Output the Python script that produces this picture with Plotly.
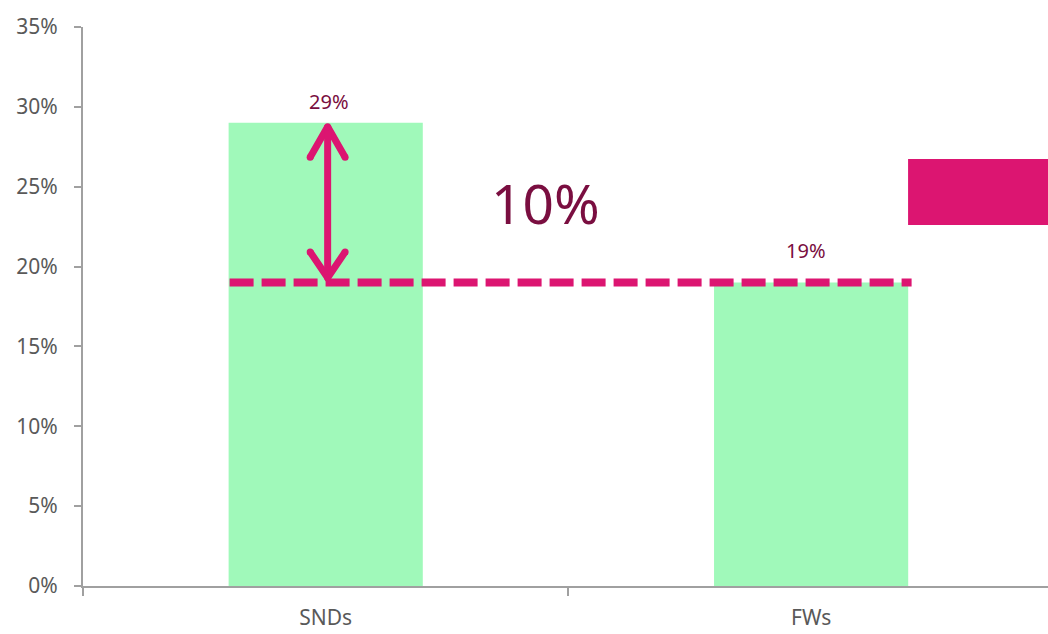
import plotly.graph_objects as go

categories = ["SNDs", "FWs"]
values = [0.29, 0.19]
bar_labels = ["29%", "19%"]
y_tickvals = [0, 0.05, 0.10, 0.15, 0.20, 0.25, 0.30, 0.35]
y_ticktext = ["0%", "5%", "10%", "15%", "20%", "25%", "30%", "35%"]

GREEN = "#A0F9BA"
MAGENTA = "#DC1571"
MAROON = "#7A0E40"
GREY_TXT = "#595959"
AXIS = "#A0A0A0"
FONT = "Noto Sans"

xs = list(range(len(categories)))
snd, fw = values
diff_label = f"{round((snd - fw) * 100)}%"

fig = go.Figure()
fig.add_trace(go.Bar(x=xs, y=values, width=0.4, marker=dict(color=GREEN, line=dict(width=0)),
                     hoverinfo="skip", showlegend=False))

# dashed reference line at FWs level
fig.add_trace(go.Scatter(x=[-0.198, 1.207], y=[fw, fw], mode="lines",
                         line=dict(color=MAGENTA, width=8, dash="24px,8px"),
                         hoverinfo="skip", showlegend=False))

# double-headed arrow between the two levels
ax = 0.004
top = snd - 0.0025
bot = fw + 0.003
hw = 0.036
hh = 0.019
arrow_x = [ax - hw, ax, ax + hw, None, ax, ax, None, ax - hw, ax, ax + hw]
arrow_y = [top - hh, top, top - hh, None, top, bot, None, bot + hh * 0.85, bot, bot + hh * 0.85]
fig.add_trace(go.Scatter(x=arrow_x, y=arrow_y, mode="lines",
                         line=dict(color=MAGENTA, width=7),
                         hoverinfo="skip", showlegend=False))
fig.add_trace(go.Scatter(x=[ax - hw, ax + hw, ax - hw, ax + hw, ax, ax],
                         y=[top - hh, top - hh, bot + hh * 0.85, bot + hh * 0.85, top, bot],
                         mode="markers", marker=dict(color=MAGENTA, size=7),
                         hoverinfo="skip", showlegend=False))

annotations = [
    dict(x=0.006, y=snd, text=bar_labels[0], showarrow=False, yshift=21,
         font=dict(family=FONT, size=20, color=MAROON)),
    dict(x=0.99, y=fw, text=bar_labels[1], showarrow=False, yshift=32,
         font=dict(family=FONT, size=20, color=MAROON)),
    dict(x=0.452, y=0.24, text=diff_label, showarrow=False,
         font=dict(family=FONT, size=55, color=MAROON)),
]

shapes = [
    dict(type="rect", xref="paper", yref="y", x0=0.855, x1=1.01, y0=0.226, y1=0.2674,
         fillcolor=MAGENTA, line=dict(width=0), layer="above"),
]

fig.update_layout(
    width=1048, height=634,
    margin=dict(l=83, r=0, t=27, b=48),
    paper_bgcolor="white", plot_bgcolor="white",
    showlegend=False,
    annotations=annotations,
    shapes=shapes,
    font=dict(family=FONT, size=21, color=GREY_TXT),
    xaxis=dict(range=[-0.5, 1.488], tickvals=xs, ticktext=categories, ticks="",
               automargin=False,
               showline=True, linecolor=AXIS, linewidth=2, showgrid=False, zeroline=False,
               ticklabelstandoff=12,
               tickfont=dict(family=FONT, size=21, color=GREY_TXT),
               minor=dict(tickvals=[-0.5, 0.5, 1.5], ticks="outside", ticklen=8,
                          tickcolor=AXIS, tickwidth=2, showgrid=False)),
    yaxis=dict(range=[0, 0.35], tickvals=y_tickvals, ticktext=y_ticktext,
               automargin=False,
               ticks="outside", ticklen=7, tickcolor=AXIS, tickwidth=2,
               showline=True, linecolor=AXIS, linewidth=2, showgrid=False, zeroline=False,
               ticklabelstandoff=12,
               tickfont=dict(family=FONT, size=21, color=GREY_TXT)),
)

fig.write_html("out.html")
